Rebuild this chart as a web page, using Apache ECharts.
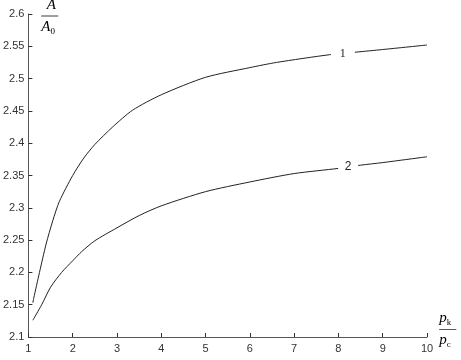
<!DOCTYPE html>
<html>
<head>
<meta charset="utf-8">
<script src="https://cdn.jsdelivr.net/npm/echarts@6/dist/echarts.min.js"></script>
<style>html,body{margin:0;padding:0;background:#fff}#c{width:461px;height:360px}</style>
</head>
<body>
<div id="c"></div>
<script>
const x1 = [1.1, 1.12, 1.25, 1.4, 1.55, 1.7, 2, 2.25, 2.5, 2.9, 3.35, 4, 5, 6, 6.6, 7.8, 8.4, 9, 10];
const y1 = [2.153, 2.16, 2.2, 2.244, 2.28, 2.31, 2.35, 2.377, 2.398, 2.425, 2.451, 2.475, 2.502, 2.517, 2.525, 2.537, 2.541, 2.545, 2.552];
const x2 = [1.1, 1.3, 1.5, 1.75, 2, 2.2, 2.5, 3, 3.5, 4, 5, 6, 7, 8, 8.5, 9, 10];
const y2 = [2.126, 2.15, 2.177, 2.2, 2.218, 2.232, 2.249, 2.269, 2.288, 2.303, 2.325, 2.34, 2.353, 2.361, 2.366, 2.37, 2.379];
const curveLabels = ['1', '2'];
const labelPos = [[8.1, 2.539], [8.22, 2.364]];
const xTicks = [1, 2, 3, 4, 5, 6, 7, 8, 9, 10];
const yTicks = [2.1, 2.15, 2.2, 2.25, 2.3, 2.35, 2.4, 2.45, 2.5, 2.55, 2.6];

const chart = echarts.init(document.getElementById('c'), null, {renderer: 'canvas'});
const axisColor = '#555';
const fracRich = {
  n: {fontFamily: 'Liberation Serif', fontStyle: 'italic', fontSize: 15, color: '#222', align: 'center', width: 20, lineHeight: 17},
  hr: {width: 17, height: 0, borderWidth: 0.5, borderColor: '#222', lineHeight: 4},
  d: {fontFamily: 'Liberation Serif', fontStyle: 'italic', fontSize: 15, color: '#222', lineHeight: 18},
  s: {fontFamily: 'Liberation Serif', fontSize: 9, color: '#222', verticalAlign: 'bottom', padding: [6, 0, 0, 0], lineHeight: 18}
};
function mkSeries(xs, ys, label, pos, fam, w) {
  return {
    type: 'line',
    data: xs.map((x, i) => [x, ys[i]]),
    smooth: 0.25,
    symbol: 'none',
    lineStyle: {color: '#222', width: 1},
    markPoint: {
      symbol: 'rect', symbolSize: [w, 12],
      itemStyle: {color: '#fff'},
      label: {show: true, position: 'inside', formatter: label, color: '#222', fontSize: 12, fontFamily: fam},
      data: [{coord: pos}]
    },
    z: 2
  };
}
chart.setOption({
  animation: false,
  backgroundColor: '#fff',
  grid: {left: 27, right: 34, top: 14, bottom: 23, containLabel: false},
  xAxis: {
    type: 'value', min: 1, max: 10, interval: 1,
    axisLine: {show: true, lineStyle: {color: axisColor, width: 1}},
    axisTick: {show: true, inside: true, length: 4, lineStyle: {color: '#333'}},
    axisLabel: {margin: 6, color: '#333', fontSize: 11, fontFamily: 'Liberation Sans',
      formatter: v => xTicks.includes(v) ? String(v) : ''},
    splitLine: {show: false}
  },
  yAxis: {
    type: 'value', min: 2.1, max: 2.6, interval: 0.05,
    axisLine: {show: true, lineStyle: {color: axisColor, width: 1}},
    axisTick: {show: true, inside: true, length: 4, lineStyle: {color: '#333'}},
    axisLabel: {margin: 4, color: '#333', fontSize: 11, fontFamily: 'Liberation Sans',
      formatter: v => { const t = yTicks.find(q => Math.abs(q - v) < 1e-6); return t === undefined ? '' : String(t); }},
    splitLine: {show: false}
  },
  graphic: [
    {type: 'text', left: 41, top: -2, style: {text: '{n|A}\n{hr|}\n{d|A}{s|0}', rich: fracRich}},
    {type: 'text', left: 439, top: 311, style: {text: '{d|p}{s|k}\n{hr|}\n{d|p}{s|c}', rich: fracRich}}
  ],
  series: [
    mkSeries(x1, y1, curveLabels[0], labelPos[0], 'Liberation Serif', 24),
    mkSeries(x2, y2, curveLabels[1], labelPos[1], 'Liberation Sans', 20)
  ]
});
</script>
</body>
</html>
